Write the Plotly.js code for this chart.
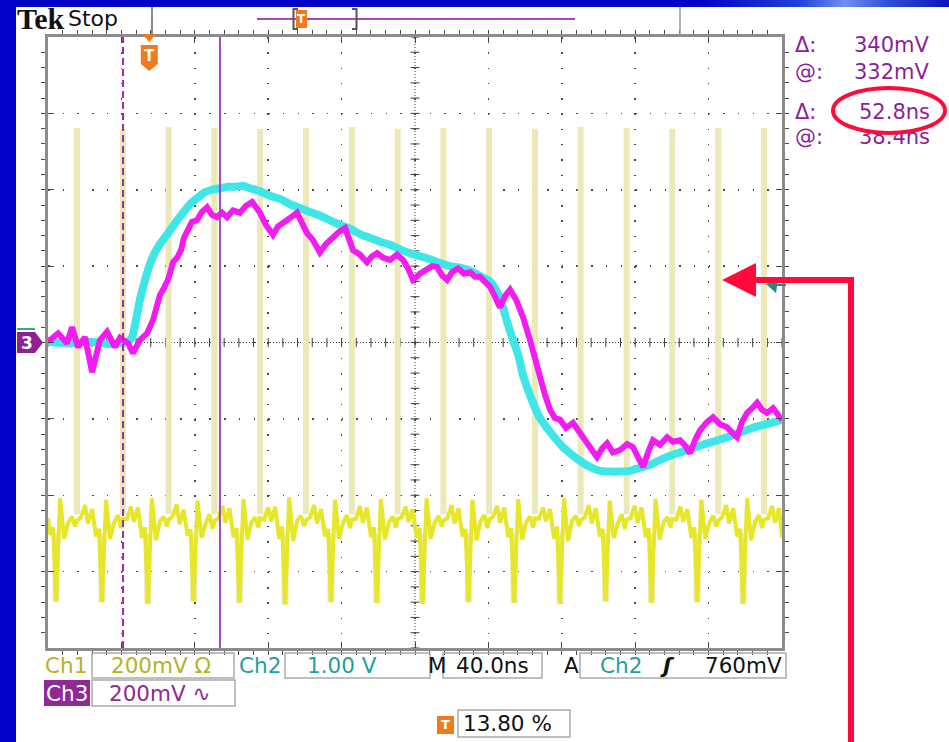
<!DOCTYPE html>
<html><head><meta charset="utf-8">
<script src="https://cdn.plot.ly/plotly-3.0.1.min.js"></script>
<style>
html,body{margin:0;padding:0;width:949px;height:742px;overflow:hidden;background:#0202c8;}
#panel{position:absolute;left:16px;top:7px;width:933px;height:735px;background:#fff;}
#swoosh{position:absolute;left:700px;top:0;width:249px;height:7px;background:linear-gradient(100deg,#0202c8 0%,#2040d8 40%,#7090f0 58%,#3050d8 75%,#0a10c0 100%);}
#plot{position:absolute;left:0;top:0;width:949px;height:742px;}
#mark{position:absolute;left:0;top:0;width:949px;height:742px;pointer-events:none;}
</style></head><body>
<div id="panel"></div><div id="swoosh"></div><div id="plot"></div>
<svg id="mark" width="949" height="742" xmlns="http://www.w3.org/2000/svg">
  <rect x="852" y="121" width="84" height="11" fill="#ffffff"/>
  <ellipse cx="889" cy="110.5" rx="56" ry="22.5" fill="none" stroke="#ff0a3a" stroke-width="4"/>
</svg>
<script>
// ---- Data (x: time in ns across 10 div of 40 ns; y: screen divisions) ----
const ch1T = [0,1.2,2.8,4.4,6.6,8.8,11.0,13.1,14.8,
15.8,18.0,20.2,21.8,24.0,26.2,27.8,29.4,31.6,33.8,36.0,38.1,39.8,
40.8,43.0,45.2,46.8,49.0,51.2,52.8,54.4,56.6,58.8,61.0,63.1,64.8,
65.7,67.9,70.1,71.7,73.9,76.1,77.7,79.3,81.5,83.7,85.9,88.0,89.7,
90.7,92.9,95.1,96.7,98.9,101.1,102.7,104.3,106.5,108.7,110.9,113.0,114.7,
115.6,117.8,120.0,121.6,123.8,126.0,127.6,129.2,131.4,133.6,135.8,137.9,139.6,
140.6,142.8,145.0,146.6,148.8,151.0,152.6,154.2,156.4,158.6,160.8,162.9,164.6,
165.6,167.8,170.0,171.6,173.8,176.0,177.6,179.2,181.4,183.6,185.8,187.9,189.6,
190.5,192.7,194.9,196.5,198.7,200.9,202.5,204.1,206.3,208.5,210.7,212.8,214.5,
215.5,217.7,219.9,221.5,223.7,225.9,227.5,229.1,231.3,233.5,235.7,237.8,239.5,
240.4,242.6,244.8,246.4,248.6,250.8,252.4,254.0,256.2,258.4,260.6,262.7,264.4,
265.4,267.6,269.8,271.4,273.6,275.8,277.4,279.0,281.2,283.4,285.6,287.7,289.4,
290.3,292.5,294.7,296.3,298.5,300.7,302.3,303.9,306.1,308.3,310.5,312.6,314.3,
315.3,317.5,319.7,321.3,323.5,325.7,327.3,328.9,331.1,333.3,335.5,337.6,339.3,
340.2,342.4,344.6,346.2,348.4,350.6,352.2,353.8,356.0,358.2,360.4,362.5,364.2,
365.2,367.4,369.6,371.2,373.4,375.6,377.2,378.8,381.0,383.2,385.4,387.5,389.2,
390.2,392.4,394.6,396.2,398.4,400];
const ch1V = [-2.30,-2.52,-2.42,-3.39,-2.04,-2.57,-2.36,-2.28,-2.41,
-2.33,-2.29,-2.13,-2.37,-2.18,-2.54,-2.44,-3.40,-2.06,-2.57,-2.36,-2.26,-2.43,
-2.31,-2.31,-2.15,-2.35,-2.16,-2.56,-2.42,-3.42,-2.04,-2.59,-2.34,-2.28,-2.41,
-2.32,-2.28,-2.12,-2.38,-2.19,-2.53,-2.45,-3.39,-2.07,-2.56,-2.37,-2.25,-2.44,
-2.34,-2.30,-2.14,-2.36,-2.17,-2.55,-2.43,-3.41,-2.05,-2.58,-2.35,-2.29,-2.42,
-2.30,-2.32,-2.16,-2.34,-2.15,-2.57,-2.41,-3.43,-2.03,-2.60,-2.33,-2.27,-2.40,
-2.33,-2.29,-2.13,-2.37,-2.18,-2.54,-2.44,-3.40,-2.06,-2.57,-2.36,-2.26,-2.43,
-2.32,-2.31,-2.14,-2.36,-2.16,-2.55,-2.42,-3.41,-2.05,-2.58,-2.35,-2.28,-2.42,
-2.31,-2.29,-2.15,-2.35,-2.18,-2.56,-2.43,-3.42,-2.04,-2.57,-2.36,-2.27,-2.41,
-2.33,-2.30,-2.13,-2.37,-2.17,-2.54,-2.44,-3.40,-2.06,-2.59,-2.34,-2.26,-2.43,
-2.32,-2.28,-2.14,-2.36,-2.16,-2.55,-2.43,-3.41,-2.05,-2.58,-2.35,-2.28,-2.42,
-2.30,-2.31,-2.16,-2.34,-2.18,-2.57,-2.41,-3.42,-2.04,-2.60,-2.33,-2.27,-2.40,
-2.33,-2.29,-2.13,-2.37,-2.17,-2.54,-2.44,-3.39,-2.07,-2.56,-2.37,-2.25,-2.44,
-2.32,-2.30,-2.14,-2.36,-2.16,-2.55,-2.43,-3.41,-2.05,-2.58,-2.35,-2.29,-2.42,
-2.31,-2.32,-2.15,-2.35,-2.18,-2.56,-2.42,-3.40,-2.06,-2.57,-2.36,-2.27,-2.41,
-2.33,-2.29,-2.13,-2.37,-2.17,-2.54,-2.44,-3.42,-2.04,-2.59,-2.34,-2.26,-2.43,
-2.32,-2.30,-2.14,-2.36,-2.17,-2.55];
// fast edges of Ch1 (drawn dim, like the scope does)
const ch1SpikeT    = [15.8,40.8,65.7,90.7,115.6,140.6,165.6,190.5,215.5,240.4,265.4,290.3,315.3,340.2,365.2,390.2];
const ch1SpikeHigh = [2.81,2.80,2.82,2.81,2.80,2.81,2.82,2.80,2.81,2.81,2.80,2.82,2.81,2.80,2.81,2.81];
const ch1SpikeLow  = [-2.25,-2.25,-2.25,-2.25,-2.25,-2.25,-2.25,-2.25,-2.25,-2.25,-2.25,-2.25,-2.25,-2.25,-2.25,-2.25];
const ch1DipT    = [4.4,29.4,54.4,79.3,104.3,129.2,154.2,179.2,204.1,229.1,254.0,279.0,303.9,328.9,353.8,378.8];
const ch1DipLow  = [-3.39,-3.40,-3.42,-3.39,-3.41,-3.43,-3.40,-3.41,-3.42,-3.40,-3.41,-3.42,-3.39,-3.41,-3.40,-3.42];
const ch1DipHigh = [-2.50,-2.50,-2.50,-2.50,-2.50,-2.50,-2.50,-2.50,-2.50,-2.50,-2.50,-2.50,-2.50,-2.50,-2.50,-2.50];

const ch2T = [0,12.0,22.9,33.8,43.6,45.8,50.1,52.9,55.6,58.3,61.0,65.4,69.2,73.6,77.4,81.8,85.6,89.4,93.7,98.1,101.9,106.3,110.1,115.5,121.0,126.4,131.9,137.3,142.8,148.2,153.7,159.1,164.6,170.0,175.5,180.9,186.4,191.8,197.3,202.7,208.2,213.6,219.1,224.5,230.0,235.4,240.9,244.7,248.0,250.7,253.4,256.2,258.9,261.6,264.3,268.1,272.0,276.3,280.7,285.6,290.0,295.4,300.8,306.3,311.7,317.2,322.6,328.1,335.2,341.7,348.3,355.3,362.4,370.1,377.1,383.7,389.7,396.2,400];
const ch2V = [0.01,-0.01,0.01,-0.02,0.01,0.07,0.56,0.82,1.03,1.18,1.29,1.43,1.56,1.70,1.81,1.90,1.97,2.00,2.02,2.04,2.04,2.05,2.02,1.98,1.92,1.88,1.81,1.76,1.71,1.66,1.60,1.54,1.49,1.42,1.37,1.32,1.28,1.22,1.17,1.13,1.09,1.04,1.00,0.98,0.94,0.87,0.80,0.66,0.45,0.23,0.03,-0.16,-0.43,-0.62,-0.79,-0.99,-1.12,-1.25,-1.37,-1.47,-1.55,-1.63,-1.68,-1.69,-1.69,-1.68,-1.64,-1.60,-1.52,-1.46,-1.41,-1.35,-1.30,-1.24,-1.18,-1.12,-1.08,-1.04,-1.01];

const ch3T = [0,1.1,5.5,10.4,13.1,16.4,20.2,24.0,28.3,32.2,36.5,39.2,43.6,46.3,50.1,54.0,57.2,59.4,61.0,62.7,65.4,67.0,68.1,70.4,72.5,74.1,76.3,78.5,81.2,83.9,86.7,89.4,92.1,94.8,97.6,100.8,104.6,107.9,111.2,113.4,115.5,118.8,122.6,125.4,128.1,131.9,135.7,138.4,141.2,144.4,148.2,151.5,155.3,158.6,161.9,164.0,166.2,170.0,173.8,176.6,179.3,182.6,186.4,190.2,193.5,196.2,198.9,202.7,206.5,209.3,212.0,214.7,217.5,220.2,223.5,226.7,230.0,232.7,235.4,238.2,240.9,243.6,246.3,249.1,251.8,255.1,258.9,262.7,265.4,268.1,270.9,273.6,276.3,279.0,282.3,286.1,289.9,293.8,296.5,299.2,301.9,304.7,307.9,311.7,315.6,318.8,321.6,324.3,327.0,329.7,333.5,337.4,340.6,344.4,347.2,349.9,352.6,355.3,359.2,362.4,366.2,370.1,372.8,375.5,378.2,381.0,383.7,386.4,389.1,391.9,395.1,398.9,400];
const ch3V = [0.03,0.03,0.12,-0.01,0.20,-0.06,0.07,-0.39,0.03,0.14,-0.06,0.06,-0.01,-0.14,0.03,0.12,0.29,0.49,0.62,0.69,0.82,0.95,1.05,1.11,1.21,1.37,1.50,1.58,1.60,1.71,1.77,1.67,1.64,1.70,1.64,1.73,1.70,1.79,1.84,1.76,1.70,1.54,1.41,1.52,1.56,1.63,1.70,1.58,1.43,1.34,1.18,1.29,1.38,1.45,1.50,1.37,1.21,1.15,1.05,1.13,1.17,1.11,1.08,1.15,1.08,0.97,0.82,0.90,0.95,1.00,0.99,0.88,0.82,0.92,0.97,0.90,0.92,0.86,0.86,0.79,0.73,0.60,0.46,0.61,0.69,0.56,0.33,0.03,-0.23,-0.45,-0.69,-0.88,-0.99,-1.01,-1.12,-1.05,-1.17,-1.32,-1.41,-1.50,-1.39,-1.32,-1.44,-1.41,-1.33,-1.37,-1.51,-1.63,-1.44,-1.28,-1.34,-1.24,-1.30,-1.28,-1.35,-1.45,-1.28,-1.15,-1.04,-0.98,-1.07,-1.11,-1.18,-1.24,-1.04,-0.92,-0.86,-0.79,-0.88,-0.92,-0.86,-0.98,-0.95];

const cursorTimes = [40.9, 93.7];           // ns, Δ = 52.8 ns
const triggerPercent = 13.80;
const readouts = [["Δ:","340mV"],["@:","332mV"],["Δ:","52.8ns"],["@:","38.4ns"]];
const chLabels = ["Ch1","Ch2","Ch3"];
const chScales = ["200mV Ω","1.00 V","200mV ∿"];
const timebase = "40.0ns";
const trigSource = "Ch2", trigLevel = "760mV";

// ---- helpers ----
const X0=48, X1=782, Y0=37, Y1=648;
const PX = p => (p - X0) / (X1 - X0);
const PY = p => (Y1 - p) / (Y1 - Y0);
const path = pts => 'M' + pts.map(q => PX(q[0]).toFixed(5) + ',' + PY(q[1]).toFixed(5)).join(' L') + ' Z';
const openPath = pts => 'M' + pts.map(q => PX(q[0]).toFixed(5) + ',' + PY(q[1]).toFixed(5)).join(' L');

// ---- traces ----
const spX = [], spY = [];
ch1SpikeT.forEach((t,i)=>{ spX.push(t,t,null); spY.push(ch1SpikeLow[i], ch1SpikeHigh[i], null); });
const dpX = [], dpY = [];
ch1DipT.forEach((t,i)=>{ dpX.push(t,t,null); dpY.push(ch1DipHigh[i], ch1DipLow[i], null); });

const traces = [
  {x: spX, y: spY, mode:'lines', line:{color:'#ebe9b8', width:6}, hoverinfo:'skip', connectgaps:false},
  {x: dpX, y: dpY, mode:'lines', line:{color:'#ebe9b8', width:7}, hoverinfo:'skip', connectgaps:false},
  {x: ch1T, y: ch1V, mode:'lines', line:{color:'#e6e62a', width:4}, hoverinfo:'skip'},
  {x: ch2T, y: ch2V, mode:'lines', line:{color:'#3ee6e6', width:8, shape:'spline', smoothing:0.6}, hoverinfo:'skip'},
  {x: ch3T, y: ch3V, mode:'lines', line:{color:'#f21cf0', width:6}, hoverinfo:'skip'}
];

// ---- shapes ----
const shapes = [];
const G = '#3c3c3c';
shapes.push({type:'line', xref:'x', yref:'y', x0:200, x1:200, y0:-4, y1:4, line:{color:G, width:1, dash:'1px,2px'}, layer:'below'});
shapes.push({type:'line', xref:'x', yref:'y', x0:0, x1:400, y0:0, y1:0, line:{color:G, width:1, dash:'1px,2px'}, layer:'below'});
for (let i=0;i<=50;i++){ const x=i*8; shapes.push({type:'line', xref:'x', yref:'y', x0:x, x1:x, y0:-0.06, y1:0.06, line:{color:G, width:1}, layer:'below'}); }
for (let j=0;j<=40;j++){ const y=-4+j*0.2; shapes.push({type:'line', xref:'x', yref:'y', x0:197.6, x1:202.4, y0:y, y1:y, line:{color:G, width:1}, layer:'below'}); }

// cursors
shapes.push({type:'line', xref:'x', yref:'paper', x0:cursorTimes[0], x1:cursorTimes[0], y0:0, y1:1, line:{color:'#a22a9e', width:2, dash:'7px,4px'}});
shapes.push({type:'line', xref:'x', yref:'paper', x0:cursorTimes[1], x1:cursorTimes[1], y0:0, y1:1, line:{color:'#a444c4', width:2}});

// trigger "T" marker at top
const tpx = X0 + triggerPercent/100*(X1-X0);
const ORANGE = '#f07a1e';
shapes.push({type:'path', xref:'paper', yref:'paper', path:path([[tpx-7,34],[tpx+7,34],[tpx,42]]), fillcolor:ORANGE, line:{width:0}});
shapes.push({type:'path', xref:'paper', yref:'paper', path:path([[tpx-8.5,45],[tpx+8.5,45],[tpx+8.5,64],[tpx,71],[tpx-8.5,64]]), fillcolor:ORANGE, line:{width:0}});

// top status bar
shapes.push({type:'line', xref:'paper', yref:'paper', x0:PX(152), x1:PX(152), y0:PY(7), y1:PY(36), line:{color:'#8a8a8a', width:2}});
shapes.push({type:'line', xref:'paper', yref:'paper', x0:PX(680), x1:PX(680), y0:PY(7), y1:PY(36), line:{color:'#9a9a9a', width:1.5}});
shapes.push({type:'line', xref:'paper', yref:'paper', x0:PX(257), x1:PX(575), y0:PY(19), y1:PY(19), line:{color:'#a748b4', width:2}});
shapes.push({type:'path', xref:'paper', yref:'paper', path:openPath([[298,9],[293.5,9],[293.5,29],[298,29]]), line:{color:'#555', width:2}});
shapes.push({type:'path', xref:'paper', yref:'paper', path:openPath([[352,9],[356.5,9],[356.5,29],[352,29]]), line:{color:'#555', width:2}});
shapes.push({type:'rect', xref:'paper', yref:'paper', x0:PX(296), x1:PX(307), y0:PY(10), y1:PY(28), fillcolor:ORANGE, line:{width:0}});

// left channel-3 ground marker (+ ch2 marker peeking above)
shapes.push({type:'line', xref:'paper', yref:'paper', x0:PX(17), x1:PX(35), y0:PY(329), y1:PY(329), line:{color:'#3aa880', width:2}});
shapes.push({type:'path', xref:'paper', yref:'paper', path:path([[17,332],[35,332],[43,342.5],[35,353],[17,353]]), fillcolor:'#8d2390', line:{width:0}});
// right trigger level marker (teal)
shapes.push({type:'path', xref:'paper', yref:'paper', path:path([[766,284],[778,280],[776,293]]), fillcolor:'#1f8c8c', line:{width:0}});
shapes.push({type:'line', xref:'paper', yref:'paper', x0:PX(772), x1:PX(786), y0:PY(285), y1:PY(285), line:{color:'#1f8c8c', width:2}});

// bottom boxes
const BOX = '#ababab';
const box = (x0,y0,x1,y1) => shapes.push({type:'rect', xref:'paper', yref:'paper', x0:PX(x0), x1:PX(x1), y0:PY(y0), y1:PY(y1), line:{color:BOX, width:1.5}, fillcolor:'rgba(0,0,0,0)'});
box(92,653,234,678); box(285,653,430,678); box(443,653,542,678); box(580,653,786,678);
box(92,680,235,706); box(458,710,570,737);
shapes.push({type:'rect', xref:'paper', yref:'paper', x0:PX(44), x1:PX(90), y0:PY(680), y1:PY(706), fillcolor:'#8f2a94', line:{width:0}});
shapes.push({type:'rect', xref:'paper', yref:'paper', x0:PX(437), x1:PX(454), y0:PY(716), y1:PY(734), fillcolor:ORANGE, line:{width:0}});

// red arrow
const RED = '#ff0a3a';
shapes.push({type:'path', xref:'paper', yref:'paper', path:openPath([[851,745],[851,280],[752,280]]), line:{color:RED, width:6}});
shapes.push({type:'path', xref:'paper', yref:'paper', path:path([[722,280],[756,263],[756,297]]), fillcolor:RED, line:{width:0}});

// ---- annotations (text) ----
const F = 'DejaVu Sans, Verdana, sans-serif';
const anns = [];
const txt = (text, px, py, o={}) => anns.push({xref:'paper', yref:'paper', x:PX(px), y:PY(py), text, showarrow:false,
  xanchor:o.xa||'left', yanchor:'middle', font:{family:o.family||F, size:o.size||20, color:o.color||'#111'}});

txt('<b>Tek</b>', 15, 19, {family:'Liberation Serif, DejaVu Serif, serif', size:30, color:'#111'});
txt('Stop', 66, 18, {size:22, color:'#111'});
txt('<b>T</b>', tpx, 56, {xa:'center', size:15, color:'#fff'});
txt('<b>T</b>', 301.5, 19, {xa:'center', size:12, color:'#fff'});
txt('<b>3</b>', 27, 343, {xa:'center', size:17, color:'#fff'});

const PUR = '#8b1f9b';
const ry = [45, 72, 112, 137];
readouts.forEach((r,i)=>{
  txt(r[0], 793, ry[i], {size:21, color:PUR});
  txt(r[1], 932, ry[i], {xa:'right', size:21, color:PUR});
});

const YEL = '#b3b326', TEAL = '#1f9e9e';
const FS = 21.5;
txt(chLabels[0], 66, 665, {xa:'center', size:FS, color:YEL});
txt(chScales[0], 161, 665, {xa:'center', size:FS, color:YEL});
txt(chLabels[1], 260, 665, {xa:'center', size:FS, color:TEAL});
txt(chScales[1], 342, 665, {xa:'center', size:FS, color:TEAL});
txt('M', 437, 665, {xa:'center', size:FS, color:'#111'});
txt(timebase, 492, 665, {xa:'center', size:FS, color:'#111'});
txt('A', 571, 665, {xa:'center', size:FS, color:'#111'});
txt(trigSource, 621, 665, {xa:'center', size:FS, color:TEAL});
txt('<b><i>ʃ</i></b>', 667, 665, {xa:'center', size:FS, color:'#111'});
txt(trigLevel, 784, 665, {xa:'right', size:FS, color:'#111'});
txt(chLabels[2], 67, 693, {xa:'center', size:FS, color:'#fff'});
txt(chScales[2], 160, 693, {xa:'center', size:FS, color:'#8f2a94'});
txt('<b>T</b>', 445.5, 725, {xa:'center', size:13, color:'#fff'});
txt(triggerPercent.toFixed(2) + ' %', 507, 723, {xa:'center', size:FS, color:'#111'});

// ---- layout ----
const axisCommon = {showticklabels:false, zeroline:false, showline:true, mirror:'allticks', linecolor:'#8c8c8c', linewidth:3,
  ticks:'inside', ticklen:6, tickcolor:'#4a4a4a', tickwidth:1, showgrid:true, gridcolor:'#4a4a4a', gridwidth:1.5, fixedrange:true};
const layout = {
  width:949, height:742, margin:{l:48, r:167, t:37, b:94, pad:0},
  paper_bgcolor:'rgba(0,0,0,0)', plot_bgcolor:'#ffffff', showlegend:false,
  xaxis: Object.assign({}, axisCommon, {range:[0,400], tick0:0, dtick:40, griddash:'1.5px,13.78px',
    minor:{dtick:8, ticklen:4, tickcolor:'#4a4a4a', showgrid:false}}),
  yaxis: Object.assign({}, axisCommon, {range:[-4,4], tick0:0, dtick:1, griddash:'1.5px,13.18px',
    minor:{dtick:0.2, ticklen:4, tickcolor:'#4a4a4a', showgrid:false}}),
  shapes, annotations: anns
};
Plotly.newPlot('plot', traces, layout, {displayModeBar:false, staticPlot:true});
</script></body></html>
